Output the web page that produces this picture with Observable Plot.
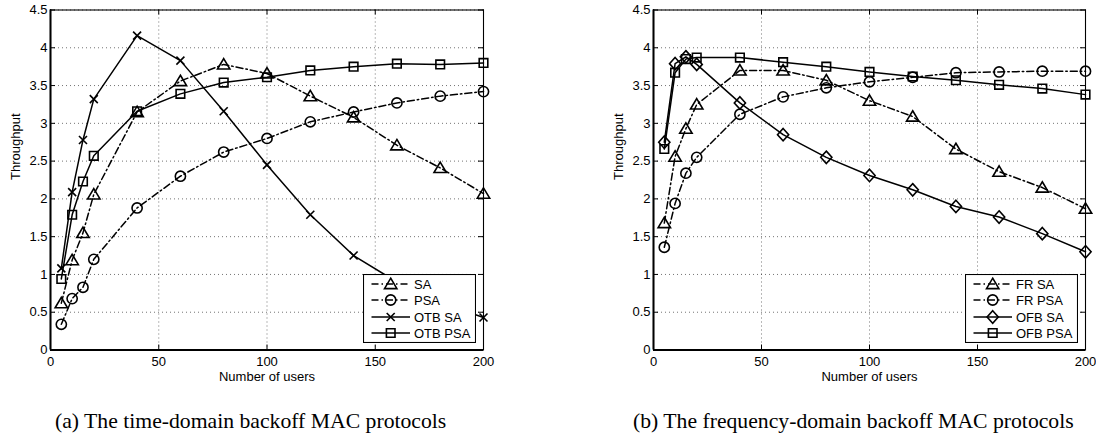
<!DOCTYPE html>
<html>
<head>
<meta charset="utf-8">
<script src="https://cdn.jsdelivr.net/npm/d3@7"></script>
<script src="https://cdn.jsdelivr.net/npm/@observablehq/plot@0.6"></script>
<style>
  html, body { margin: 0; padding: 0; background: #fff; }
  #root { position: relative; width: 1096px; height: 437px; overflow: hidden; background: #fff; }
  .panel { position: absolute; top: 0; }
  .legend { position: absolute; }
  .caption { position: absolute; font-family: "Liberation Serif", "Times New Roman", serif; font-size: 21.7px; line-height: 22px; white-space: nowrap; color: #000; }
</style>
</head>
<body>
<div id="root"></div>
<script>
// ---------- data ----------
const users = [5, 10, 15, 20, 40, 60, 80, 100, 120, 140, 160, 180, 200];

// (a) time-domain backoff
const SA      = [0.62, 1.19, 1.55, 2.06, 3.15, 3.56, 3.78, 3.66, 3.36, 3.08, 2.71, 2.41, 2.07];
const PSA     = [0.34, 0.68, 0.83, 1.20, 1.88, 2.30, 2.62, 2.80, 3.02, 3.15, 3.27, 3.36, 3.42];
const OTB_SA  = [1.08, 2.09, 2.78, 3.32, 4.16, 3.83, 3.16, 2.45, 1.79, 1.25, 0.90, 0.63, 0.43];
const OTB_PSA = [0.94, 1.79, 2.23, 2.57, 3.16, 3.39, 3.54, 3.61, 3.70, 3.75, 3.79, 3.78, 3.80];

// (b) frequency-domain backoff
const FR_SA   = [1.68, 2.56, 2.93, 3.25, 3.70, 3.70, 3.57, 3.30, 3.09, 2.66, 2.36, 2.15, 1.87];
const FR_PSA  = [1.36, 1.94, 2.34, 2.55, 3.12, 3.35, 3.47, 3.55, 3.61, 3.67, 3.68, 3.69, 3.69];
const OFB_SA  = [2.75, 3.79, 3.88, 3.78, 3.27, 2.85, 2.55, 2.31, 2.12, 1.90, 1.76, 1.54, 1.30];
const OFB_PSA = [2.66, 3.67, 3.85, 3.87, 3.87, 3.81, 3.75, 3.68, 3.62, 3.57, 3.51, 3.46, 3.38];

const xTicks = [0, 50, 100, 150, 200];
const yTicks = [0, 0.5, 1, 1.5, 2, 2.5, 3, 3.5, 4, 4.5];
const xDomain = [0, 200];
const yDomain = [0, 4.5];
const xLabel = "Number of users";
const yLabel = "Throughput";
const legendA = ["SA", "PSA", "OTB SA", "OTB PSA"];
const legendB = ["FR SA", "FR PSA", "OFB SA", "OFB PSA"];
const captionA = "(a) The time-domain backoff MAC protocols";
const captionB = "(b) The frequency-domain backoff MAC protocols";

// ---------- marker shapes (MATLAB-like, hollow) ----------
const unit = size => Math.sqrt(size / Math.PI);
const symbols = {
  triangle: { draw(c, size) { const s = unit(size); c.moveTo(0, -5.8 * s); c.lineTo(6.2 * s, 4.6 * s); c.lineTo(-6.2 * s, 4.6 * s); c.closePath(); } },
  circle:   { draw(c, size) { const s = unit(size); c.moveTo(5.1 * s, 0); c.arc(0, 0, 5.1 * s, 0, 2 * Math.PI); c.closePath(); } },
  cross:    { draw(c, size) { const s = unit(size); c.moveTo(-4 * s, -4 * s); c.lineTo(4 * s, 4 * s); c.moveTo(4 * s, -4 * s); c.lineTo(-4 * s, 4 * s); } },
  square:   { draw(c, size) { const s = unit(size); c.moveTo(-4.3 * s, -4.3 * s); c.lineTo(4.3 * s, -4.3 * s); c.lineTo(4.3 * s, 4.3 * s); c.lineTo(-4.3 * s, 4.3 * s); c.closePath(); } },
  diamond:  { draw(c, size) { const s = unit(size); c.moveTo(0, -6.2 * s); c.lineTo(5.6 * s, 0); c.lineTo(0, 6.2 * s); c.lineTo(-5.6 * s, 0); c.closePath(); } }
};
const DASHDOT = "7,3,1.5,3";

function rows(vals) { return users.map((u, i) => ({ x: u, y: vals[i] })); }

const seriesA = [
  { name: legendA[0], vals: SA,      sym: symbols.triangle, dash: DASHDOT },
  { name: legendA[1], vals: PSA,     sym: symbols.circle,   dash: DASHDOT },
  { name: legendA[2], vals: OTB_SA,  sym: symbols.cross,    dash: null },
  { name: legendA[3], vals: OTB_PSA, sym: symbols.square,   dash: null }
];
const seriesB = [
  { name: legendB[0], vals: FR_SA,   sym: symbols.triangle, dash: DASHDOT },
  { name: legendB[1], vals: FR_PSA,  sym: symbols.circle,   dash: DASHDOT },
  { name: legendB[2], vals: OFB_SA,  sym: symbols.diamond,  dash: null },
  { name: legendB[3], vals: OFB_PSA, sym: symbols.square,   dash: null }
];

const W = 548, H = 380, MT = 9.5, MB = 30.5;

function chart(series, ml, mr) {
  const plotW = W - ml - mr, plotH = H - MT - MB;
  const marks = [
    Plot.gridX(xTicks, { stroke: "#000", strokeOpacity: 0.55, strokeDasharray: "1,3" }),
    Plot.gridY(yTicks, { stroke: "#000", strokeOpacity: 0.55, strokeDasharray: "1,3" }),
    Plot.tickX(xTicks, { x: d => d, stroke: "#000", insetTop: plotH - 5 }),
    Plot.tickX(xTicks, { x: d => d, stroke: "#000", insetBottom: plotH - 5 }),
    Plot.tickY(yTicks, { y: d => d, stroke: "#000", insetLeft: plotW - 5 }),
    Plot.tickY(yTicks, { y: d => d, stroke: "#000", insetRight: plotW - 5 })
  ];
  for (const s of series) {
    const d = rows(s.vals);
    marks.push(Plot.line(d, { x: "x", y: "y", stroke: "#000", strokeWidth: 1.5, strokeDasharray: s.dash }));
    marks.push(Plot.dot(d, { x: "x", y: "y", symbol: s.sym, r: 1, stroke: "#000", fill: "none", strokeWidth: 1.6 }));
  }
  marks.push(
    Plot.frame({ stroke: "#000", strokeWidth: 1.1 }),
    Plot.ruleX([xDomain[0]], { stroke: "#000", strokeWidth: 2 }),
    Plot.ruleY([yDomain[0]], { stroke: "#000", strokeWidth: 2 }),
    Plot.axisX(xTicks, { tickSize: 0, tickPadding: 7, label: null, tickFormat: d => String(d) }),
    Plot.axisY(yTicks, { tickSize: 0, tickPadding: 3, label: null, tickFormat: d => String(d) }),
    Plot.text([xLabel], { text: d => d, frameAnchor: "bottom", dy: 27, lineAnchor: "middle" }),
    Plot.text([yLabel], { text: d => d, frameAnchor: "left", rotate: -90, dx: -35, lineAnchor: "middle" })
  );
  return Plot.plot({
    width: W, height: H,
    marginLeft: ml, marginRight: mr, marginTop: MT, marginBottom: MB,
    style: { fontFamily: "'Liberation Sans', Arial, sans-serif", fontSize: "13px", color: "#000", background: "transparent", overflow: "visible" },
    x: { domain: xDomain },
    y: { domain: yDomain },
    marks
  });
}

function legend(series, left, top) {
  const w = 113, h = 69;
  const svg = d3.create("svg").attr("class", "legend").attr("width", w).attr("height", h)
    .style("left", left + "px").style("top", top + "px");
  svg.append("rect").attr("x", 0.5).attr("y", 0.5).attr("width", w - 1).attr("height", h - 1)
    .attr("fill", "#fff").attr("stroke", "#000").attr("stroke-width", 1.1);
  const rowsY = [10, 26, 43, 59];
  series.forEach((s, i) => {
    const y = rowsY[i];
    svg.append("line").attr("x1", 8.5).attr("x2", 47).attr("y1", y).attr("y2", y)
      .attr("stroke", "#000").attr("stroke-width", 1.5).attr("stroke-dasharray", s.dash);
    const p = d3.path(); s.sym.draw(p, Math.PI);
    svg.append("path").attr("d", p.toString()).attr("transform", `translate(27.7,${y})`)
      .attr("fill", "none").attr("stroke", "#000").attr("stroke-width", 1.6);
    svg.append("text").attr("x", 51).attr("y", y).attr("dy", "0.36em").text(s.name)
      .attr("font-family", "'Liberation Sans', Arial, sans-serif").attr("font-size", 13).attr("fill", "#000");
  });
  return svg.node();
}

const root = document.getElementById("root");
const left = chart(seriesA, 50, 65);
left.classList.add("panel"); left.style.left = "0px";
root.appendChild(left);
const right = chart(seriesB, 105, 11);
right.classList.add("panel"); right.style.left = "548px";
root.appendChild(right);

root.appendChild(legend(seriesA, 363, 274));
root.appendChild(legend(seriesB, 965, 274));

const capA = document.createElement("div");
capA.className = "caption"; capA.textContent = captionA;
capA.style.left = "55px"; capA.style.top = "409.5px";
root.appendChild(capA);
const capB = document.createElement("div");
capB.className = "caption"; capB.textContent = captionB;
capB.style.left = "633px"; capB.style.top = "409.5px";
root.appendChild(capB);
</script>
</body>
</html>
